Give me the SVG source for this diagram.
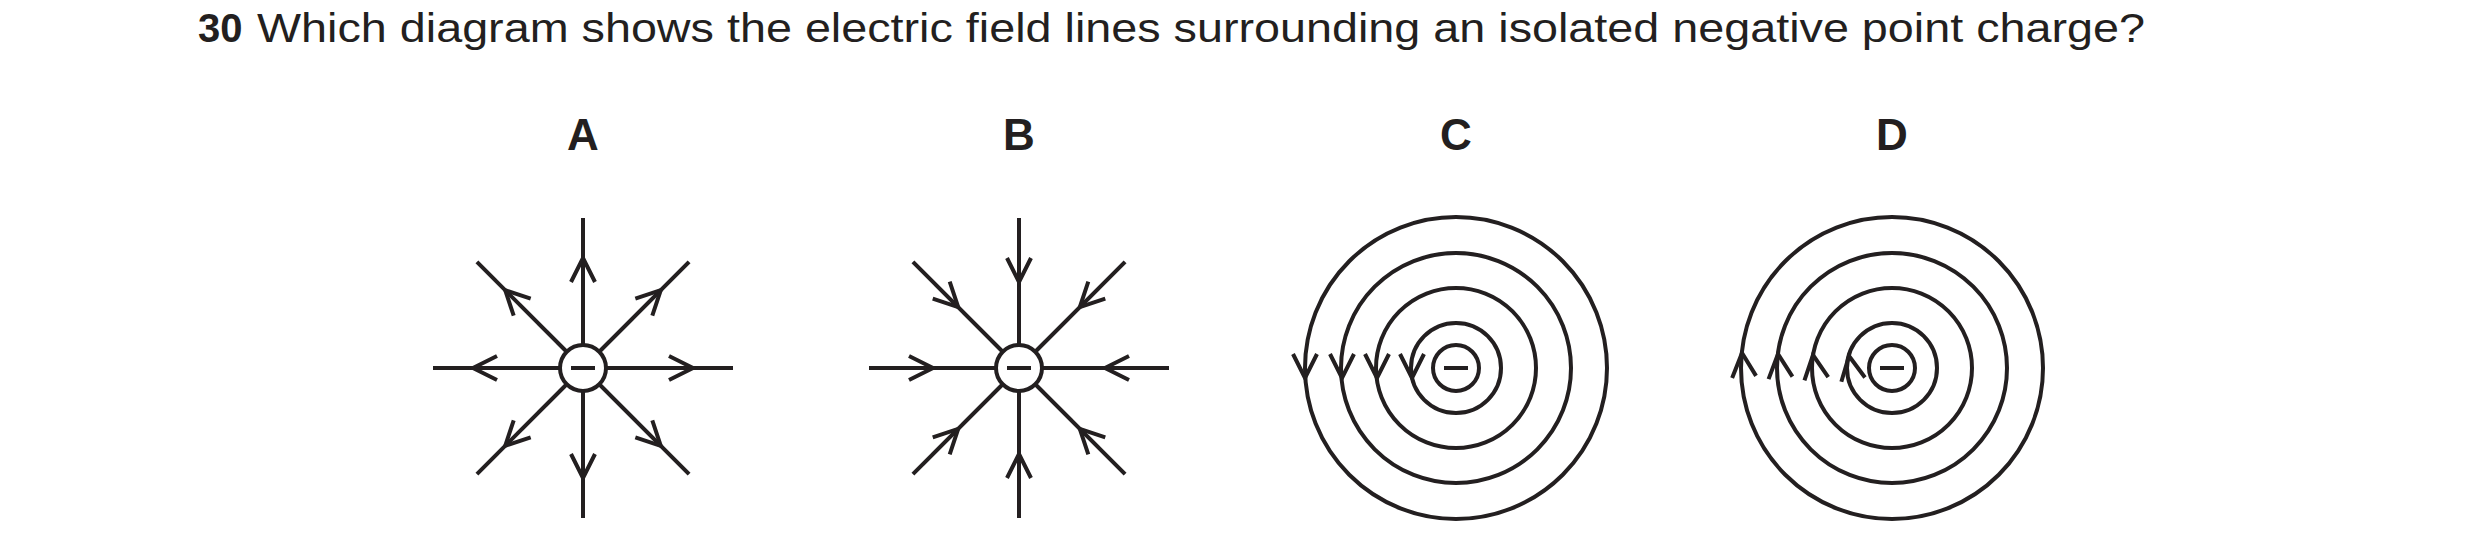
<svg xmlns="http://www.w3.org/2000/svg" width="2480" height="560" viewBox="0 0 2480 560">
<style>
.t{font-family:"Liberation Sans",Arial,sans-serif;fill:#231f20}
.l{stroke:#231f20;stroke-width:4;fill:none}
</style>
<defs>
<path id="arr" class="l" d="M-12,24 L0,0 L12,24"/>
<g id="chg"><circle class="l" r="23" fill="#fff"/><path class="l" d="M-12,0H12"/></g>
</defs>
<rect width="2480" height="560" fill="#fff"/>
<text class="t" x="198" y="42" font-size="40" font-weight="bold">30</text>
<text class="t" x="257" y="42" font-size="40" textLength="1888" lengthAdjust="spacingAndGlyphs">Which diagram shows the electric field lines surrounding an isolated negative point charge?</text>
<g id="labels" class="t" font-size="44" font-weight="bold" text-anchor="middle">
<text x="583" y="150">A</text><text x="1019" y="150">B</text><text x="1456" y="150">C</text><text x="1892" y="150">D</text>
</g>
<g id="A" transform="translate(583,368)">
<g id="connectorsA">
<g><path class="l" d="M0,-23V-150"/><use href="#arr" transform="rotate(0) translate(0,-110)"/></g>
<g transform="rotate(45)"><path class="l" d="M0,-23V-150"/><use href="#arr" transform="translate(0,-110)"/></g>
<g transform="rotate(90)"><path class="l" d="M0,-23V-150"/><use href="#arr" transform="translate(0,-110)"/></g>
<g transform="rotate(135)"><path class="l" d="M0,-23V-150"/><use href="#arr" transform="translate(0,-110)"/></g>
<g transform="rotate(180)"><path class="l" d="M0,-23V-150"/><use href="#arr" transform="translate(0,-110)"/></g>
<g transform="rotate(225)"><path class="l" d="M0,-23V-150"/><use href="#arr" transform="translate(0,-110)"/></g>
<g transform="rotate(270)"><path class="l" d="M0,-23V-150"/><use href="#arr" transform="translate(0,-110)"/></g>
<g transform="rotate(315)"><path class="l" d="M0,-23V-150"/><use href="#arr" transform="translate(0,-110)"/></g>
</g>
<use href="#chg"/>
</g>
<g id="B" transform="translate(1019,368)">
<g id="connectorsB">
<g><path class="l" d="M0,-23V-150"/><use href="#arr" transform="translate(0,-86) rotate(180)"/></g>
<g transform="rotate(45)"><path class="l" d="M0,-23V-150"/><use href="#arr" transform="translate(0,-86) rotate(180)"/></g>
<g transform="rotate(90)"><path class="l" d="M0,-23V-150"/><use href="#arr" transform="translate(0,-86) rotate(180)"/></g>
<g transform="rotate(135)"><path class="l" d="M0,-23V-150"/><use href="#arr" transform="translate(0,-86) rotate(180)"/></g>
<g transform="rotate(180)"><path class="l" d="M0,-23V-150"/><use href="#arr" transform="translate(0,-86) rotate(180)"/></g>
<g transform="rotate(225)"><path class="l" d="M0,-23V-150"/><use href="#arr" transform="translate(0,-86) rotate(180)"/></g>
<g transform="rotate(270)"><path class="l" d="M0,-23V-150"/><use href="#arr" transform="translate(0,-86) rotate(180)"/></g>
<g transform="rotate(315)"><path class="l" d="M0,-23V-150"/><use href="#arr" transform="translate(0,-86) rotate(180)"/></g>
</g>
<use href="#chg"/>
</g>
<g id="C" transform="translate(1456,368)">
<g id="connectorsC">
<circle class="l" r="45"/><circle class="l" r="80"/><circle class="l" r="115"/><circle class="l" r="151"/>
<use href="#arr" transform="translate(-44,10) rotate(180)"/>
<use href="#arr" transform="translate(-79,10) rotate(180)"/>
<use href="#arr" transform="translate(-114,10) rotate(180)"/>
<use href="#arr" transform="translate(-151,10) rotate(180)"/>
</g>
<use href="#chg"/>
</g>
<g id="D" transform="translate(1892,368)">
<g id="connectorsD">
<circle class="l" r="45"/><circle class="l" r="80"/><circle class="l" r="115"/><circle class="l" r="151"/>
<use href="#arr" transform="translate(-43,-12) rotate(-10)"/>
<use href="#arr" transform="translate(-79,-13) rotate(-8)"/>
<use href="#arr" transform="translate(-114,-14) rotate(-6)"/>
<use href="#arr" transform="translate(-150,-15) rotate(-5)"/>
</g>
<use href="#chg"/>
</g>
</svg>
